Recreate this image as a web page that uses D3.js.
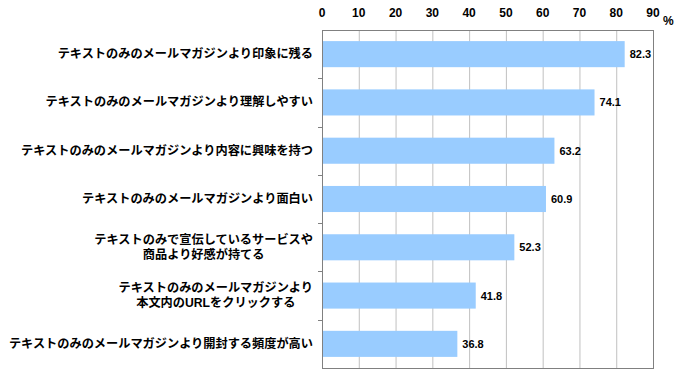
<!DOCTYPE html>
<html>
<head>
<meta charset="utf-8">
<script src="https://cdn.jsdelivr.net/npm/d3@7"></script>
<style>
  body { margin: 0; background: #fff; }
  text { font-family: "Liberation Sans", "Noto Sans CJK JP", sans-serif; fill: #000; }
</style>
</head>
<body>
<div id="chart"></div>
<script>
// data
let categories = [
    ["テキストのみのメールマガジンより印象に残る"],
    ["テキストのみのメールマガジンより理解しやすい"],
    ["テキストのみのメールマガジンより内容に興味を持つ"],
    ["テキストのみのメールマガジンより面白い"],
    ["テキストのみで宣伝しているサービスや", "商品より好感が持てる"],
    ["テキストのみのメールマガジンより", "本文内のURLをクリックする"],
    ["テキストのみのメールマガジンより開封する頻度が高い"]
];
let values = [82.3, 74.1, 63.2, 60.9, 52.3, 41.8, 36.8];
let ticks = [0, 10, 20, 30, 40, 50, 60, 70, 80, 90];

// set the dimensions and margins of the graph
let margin = {top: 30, right: 25, bottom: 7, left: 322},
    width = 678 - margin.left - margin.right,
    height = 375 - margin.top - margin.bottom;

let x = d3.scaleLinear().domain([0, 90]).range([0, width]);
let y = d3.scaleBand()
    .domain(d3.range(categories.length))
    .range([0, height])
    .paddingInner(0.46)
    .paddingOuter(0.23);

let svg = d3.select("#chart").append("svg")
    .attr("width", 678)
    .attr("height", 375)
    .append("g")
    .attr("transform", "translate(" + margin.left + "," + margin.top + ")");

// gridlines
svg.selectAll(".grid")
    .data(ticks.slice(1, -1))
    .enter().append("line")
    .attr("x1", (d) => x(d) + 0.5)
    .attr("x2", (d) => x(d) + 0.5)
    .attr("y1", 0)
    .attr("y2", height)
    .attr("stroke", "#c0c0c0")
    .attr("stroke-width", 1);

// bars
svg.selectAll(".bar")
    .data(values)
    .enter().append("rect")
    .attr("x", 0)
    .attr("y", (d, i) => y(i))
    .attr("width", (d) => x(d))
    .attr("height", y.bandwidth())
    .attr("fill", "#99ccff");

// value labels
svg.selectAll(".val")
    .data(values)
    .enter().append("text")
    .attr("x", (d) => x(d) + 5)
    .attr("y", (d, i) => y(i) + y.bandwidth() / 2 + 4)
    .attr("font-size", "11px")
    .attr("font-weight", "bold")
    .text((d) => d.toFixed(1));

// frame
svg.append("rect")
    .attr("x", 0.5).attr("y", 0.5)
    .attr("width", width).attr("height", height)
    .attr("fill", "none")
    .attr("stroke", "#808080");

// category separator ticks on the left
let step = y.step();
svg.selectAll(".ctick")
    .data(d3.range(1, categories.length))
    .enter().append("line")
    .attr("x1", -4).attr("x2", 0)
    .attr("y1", (d) => Math.round(y(d) - step * y.paddingInner() / 2) + 0.5)
    .attr("y2", (d) => Math.round(y(d) - step * y.paddingInner() / 2) + 0.5)
    .attr("stroke", "#808080");

// top axis labels
svg.selectAll(".xt")
    .data(ticks)
    .enter().append("text")
    .attr("x", (d) => x(d))
    .attr("y", -13)
    .attr("text-anchor", "middle")
    .attr("font-size", "12px")
    .attr("font-weight", "bold")
    .text((d) => d);

svg.append("text")
    .attr("x", width + 10)
    .attr("y", -5)
    .attr("font-size", "12px")
    .attr("font-weight", "bold")
    .text("%");

// category labels: one text per category, lines as tspans centred in a right aligned block
let right = -9;
let lh = 15;
categories.forEach((lines, i) => {
    let cy = y(i) + y.bandwidth() / 2;
    let t = svg.append("text")
        .attr("font-size", "12.2px")
        .attr("font-weight", "bold")
        .attr("text-anchor", "middle");
    let spans = lines.map((s, k) => t.append("tspan")
        .attr("y", cy + 4 + (k - (lines.length - 1) / 2) * lh)
        .text(s));
    let maxW = d3.max(spans, (s) => s.node().getComputedTextLength());
    spans.forEach((s) => s.attr("x", right - maxW / 2));
});
</script>
</body>
</html>
